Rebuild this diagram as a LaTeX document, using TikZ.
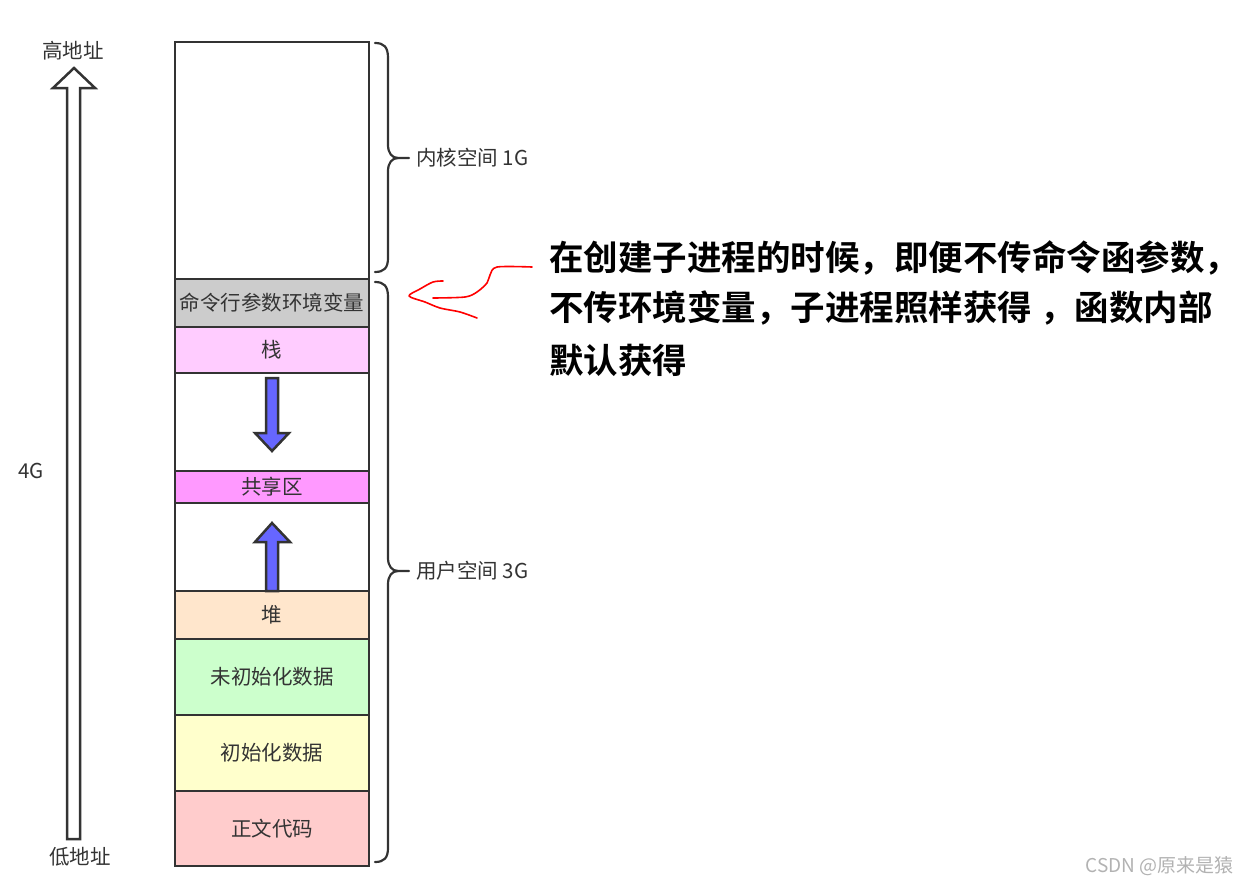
\documentclass[tikz,border=0pt]{standalone}
\usepackage{fontspec}
\newfontfamily\cjk{Noto Sans CJK SC}
\newfontfamily\cjkb{Noto Sans CJK SC Bold}
\begin{document}
\begin{tikzpicture}[x=1pt,y=-1pt,
  cell/.style={draw=black!80, line width=2.5pt, minimum width=194pt, inner sep=0pt, outer sep=0pt,
    font=\cjk\fontsize{20.5}{22}\selectfont, text=black!80},
  lbl/.style={font=\cjk\fontsize{20.5}{22}\selectfont, text=black!80, inner sep=0pt},
  brace/.style={draw=black!80, line width=2.2pt, line cap=round},
  blue arrow/.style={draw=black!80, line width=2.5pt, fill=blue!60, line join=miter},
  big/.style={font=\cjkb\fontsize{34.5}{40}\selectfont, inner sep=0pt, anchor=west}]
\useasboundingbox (0,0) rectangle (1239,886);
% cells
\node[cell, minimum height=237pt] (kernel) at (272,160.5) {};
\node[cell, minimum height=48pt, fill={rgb,255:red,204;green,204;blue,204}] (cmd) at (272,303) {命令行参数环境变量};
\node[cell, minimum height=46pt, fill={rgb,255:red,255;green,204;blue,255}] (stack) at (272,350) {栈};
\node[cell, minimum height=98pt] (gapa) at (272,422) {};
\node[cell, minimum height=32pt, fill={rgb,255:red,255;green,153;blue,255}] (share) at (272,487) {共享区};
\node[cell, minimum height=88pt] (gapb) at (272,547) {};
\node[cell, minimum height=48pt, fill={rgb,255:red,255;green,230;blue,204}] (heap) at (272,615) {堆};
\node[cell, minimum height=76pt, fill={rgb,255:red,204;green,255;blue,204}] (uninit) at (272,677) {未初始化数据};
\node[cell, minimum height=76pt, fill={rgb,255:red,255;green,255;blue,204}] (init) at (272,753) {初始化数据};
\node[cell, minimum height=75pt, fill={rgb,255:red,255;green,204;blue,204}] (text) at (272,828.5) {正文代码};
% blue arrows
\draw[blue arrow] (266,378) -- (278,378) -- (278,433) -- (289,433) -- (272,451) -- (255,433) -- (266,433) -- cycle;
\draw[blue arrow] (266,591) -- (278,591) -- (278,542) -- (290,542) -- (272,523) -- (255,542) -- (266,542) -- cycle;
% hollow address arrow
\draw[draw=black!80, line width=2.5pt, fill=white, line join=miter]
  (67,839) -- (80,839) -- (80,88) -- (95,88) -- (74,68) -- (53,88) -- (67,88) -- cycle;
\node[lbl] (high) at (73,51) {高地址};
\node[lbl] (low) at (80,857) {低地址};
\node[lbl] (four) at (31,471) {4G};
% braces
\draw[brace] (375,43) .. controls (384,43) and (388,47) .. (388,58) -- (388,145)
  .. controls (388,153) and (392,158) .. (398,158) -- (409,158);
\draw[brace] (398,158) .. controls (392,158) and (388,163) .. (388,171) -- (388,258)
  .. controls (388,268) and (384,272) .. (375,272);
\node[lbl, anchor=west] (klabel) at (416,158) {内核空间 1G};
\draw[brace] (375,282) .. controls (384,282) and (388,286) .. (388,297) -- (388,558)
  .. controls (388,566) and (392,571) .. (398,571) -- (409,571);
\draw[brace] (398,571) .. controls (392,571) and (388,576) .. (388,584) -- (388,848)
  .. controls (388,858) and (384,862) .. (375,862);
\node[lbl, anchor=west] (ulabel) at (416,571) {用户空间 3G};
% red hand-drawn arrow
\draw[red, line width=1.6pt, line cap=round, line join=round] plot[smooth, tension=0.5] coordinates
  {(532,267) (497,267) (490,275) (487,283) (477,292) (465,297) (433,298)};
\draw[red, line width=1.6pt, line cap=round, line join=round] plot[smooth, tension=0.5] coordinates
  {(443,281) (433,282) (420,289) (409,296) (425,302) (440,308) (460,312) (477,318)};
% big annotation
\node[big] (l1) at (549,258) {在创建子进程的时候，即便不传命令函参数，};
\node[big] (l2) at (549,308) {不传环境变量，子进程照样获得 ，函数内部};
\node[big] (l3) at (549,360) {默认获得};
% watermark
\node[font=\cjk\fontsize{19}{21}\selectfont, text=black!30, inner sep=0pt, anchor=east] (wm) at (1234,866) {CSDN @原来是猿};
\end{tikzpicture}
\end{document}
